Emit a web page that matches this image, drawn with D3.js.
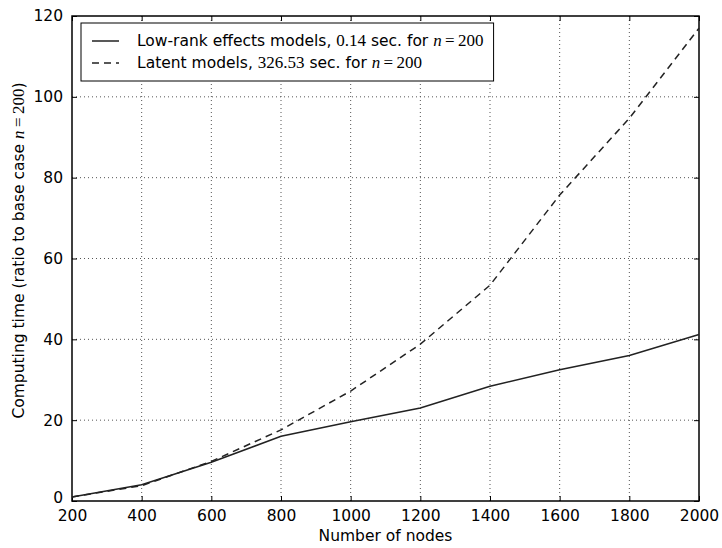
<!DOCTYPE html>
<html>
<head>
<meta charset="utf-8">
<script src="https://cdn.jsdelivr.net/npm/d3@7"></script>
<style>
  body { margin: 0; background: #fff; }
  text { font-family: "DejaVu Sans", sans-serif; fill: #000; }
  .math { font-family: "Liberation Serif", "DejaVu Serif", serif; font-size: 17px; }
</style>
</head>
<body>
<div id="vis"></div>
<script>
// Number of nodes
const nodes = [200, 400, 600, 800, 1000, 1200, 1400, 1600, 1800, 2000];
// Computing time ratios
const lowRank = [1.0, 4.0, 9.6, 16.0, 19.6, 23.0, 28.4, 32.5, 36.0, 41.2];
const latent = [1.0, 3.8, 9.8, 17.6, 27.2, 38.8, 53.4, 75.7, 94.7, 117.0];
const xTicks = [200, 400, 600, 800, 1000, 1200, 1400, 1600, 1800, 2000];
const yTicks = [0, 20, 40, 60, 80, 100, 120];

const fontSize = '15.5px';

let margin = { left: 72, right: 23, top: 16, bottom: 47 };
let width = 722 - margin.left - margin.right;
let height = 548 - margin.top - margin.bottom;

let svg = d3.select('#vis').append('svg')
    .attr('width', 722)
    .attr('height', 548);

let g = svg.append('g')
    .attr('transform', `translate(${margin.left}, ${margin.top})`);

let xScale = d3.scaleLinear().domain([200, 2000]).range([0, width]);
let yScale = d3.scaleLinear().domain([0, 120]).range([height, 0]);

// dotted grid
g.append('g').selectAll('line').data(xTicks.slice(1, -1)).join('line')
    .attr('x1', d => xScale(d)).attr('x2', d => xScale(d))
    .attr('y1', 0).attr('y2', height)
    .attr('stroke', '#555').attr('stroke-width', 1).attr('stroke-dasharray', '1,3');
g.append('g').selectAll('line').data(yTicks.slice(1, -1)).join('line')
    .attr('y1', d => yScale(d)).attr('y2', d => yScale(d))
    .attr('x1', 0).attr('x2', width)
    .attr('stroke', '#555').attr('stroke-width', 1).attr('stroke-dasharray', '1,3');

// axes with inward ticks on all four sides
let xAxis = g.append('g').attr('transform', `translate(0, ${height})`)
    .call(d3.axisBottom(xScale).tickValues(xTicks).tickSize(-5).tickPadding(9).tickFormat(d3.format('d')));
let xTop = g.append('g')
    .call(d3.axisTop(xScale).tickValues(xTicks).tickSize(-5).tickFormat(''));
let yAxis = g.append('g')
    .call(d3.axisLeft(yScale).tickValues(yTicks).tickSize(-5).tickPadding(9));
let yRight = g.append('g').attr('transform', `translate(${width}, 0)`)
    .call(d3.axisRight(yScale).tickValues(yTicks).tickSize(-5).tickFormat(''));

[xAxis, xTop, yAxis, yRight].forEach(a => {
    a.select('.domain').remove();
    a.selectAll('line').attr('stroke', '#000');
    a.selectAll('text').style('font-size', fontSize).attr('fill', '#000');
});
// the "0" label sits just above the "200" label
yAxis.selectAll('text').filter(d => d === 0).attr('dy', '0.1em');

// frame
g.append('rect').attr('width', width).attr('height', height)
    .attr('fill', 'none').attr('stroke', '#000').attr('stroke-width', 1.5);

// lines
let line = d3.line().x((d, i) => xScale(nodes[i])).y(d => yScale(d));
g.append('path').datum(lowRank).attr('d', line)
    .attr('fill', 'none').attr('stroke', '#222').attr('stroke-width', 1.5);
g.append('path').datum(latent).attr('d', line)
    .attr('fill', 'none').attr('stroke', '#222').attr('stroke-width', 1.5)
    .attr('stroke-dasharray', '7,5');

// axis titles
svg.append('text')
    .attr('x', margin.left + width / 2).attr('y', 541)
    .attr('text-anchor', 'middle').style('font-size', fontSize)
    .text('Number of nodes');

let yTitle = svg.append('text')
    .attr('transform', `translate(24, ${margin.top + height / 2 - 8}) rotate(-90)`)
    .attr('text-anchor', 'middle').style('font-size', fontSize);
yTitle.append('tspan').text('Computing time (ratio to base case ');
yTitle.append('tspan').attr('class', 'math').style('font-style', 'italic').text('n');
yTitle.append('tspan').attr('class', 'math').text('\u2009=\u2009200');
yTitle.append('tspan').text(')');

// legend
let legend = svg.append('g').attr('transform', 'translate(81, 23)');
let box = legend.append('rect').attr('height', 58)
    .attr('fill', '#fff').attr('stroke', '#000').attr('stroke-width', 1);

let entries = [
    { dash: null, pre: 'Low-rank effects models, ', num: '0.14' },
    { dash: '7,5', pre: 'Latent models, ', num: '326.53' }
];
let maxW = 0;
entries.forEach((e, i) => {
    let y = 18 + i * 22;
    let ln = legend.append('line')
        .attr('x1', 11).attr('x2', 38).attr('y1', y).attr('y2', y)
        .attr('stroke', '#222').attr('stroke-width', 1.5);
    if (e.dash) ln.attr('stroke-dasharray', e.dash);
    let t = legend.append('text').attr('x', 56).attr('y', y + 5).style('font-size', fontSize);
    t.append('tspan').text(e.pre);
    t.append('tspan').attr('class', 'math').text(e.num);
    t.append('tspan').text(' sec. for ');
    t.append('tspan').attr('class', 'math').style('font-style', 'italic').text('n');
    t.append('tspan').attr('class', 'math').text('\u2009=\u2009200');
    maxW = Math.max(maxW, t.node().getComputedTextLength());
});
box.attr('width', 56 + maxW + 10);
</script>
</body>
</html>
